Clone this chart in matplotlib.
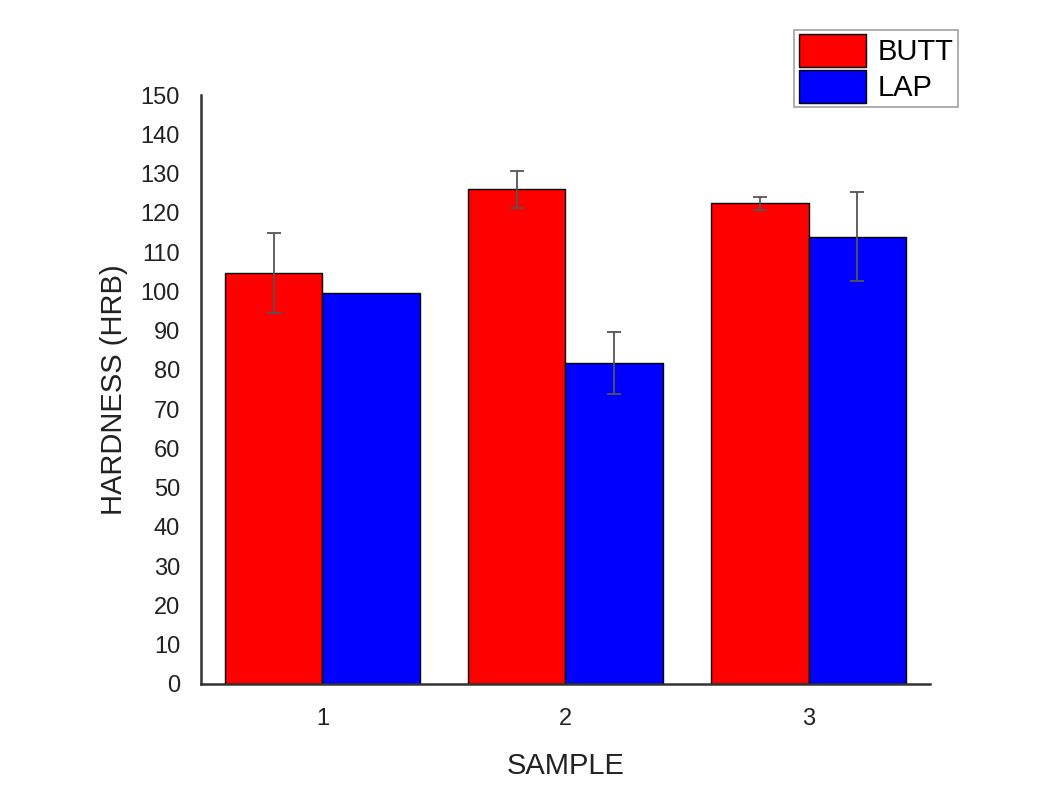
import matplotlib.pyplot as plt
import numpy as np

plt.rcParams["font.family"] = ["Liberation Sans", "DejaVu Sans"]

samples = ["1", "2", "3"]
butt_mean = [104.7, 126.0, 122.4]
butt_err = [10.1, 4.7, 1.6]
lap_mean = [99.7, 81.8, 113.9]
lap_err = [np.nan, 7.9, 11.3]

x = np.arange(1, len(samples) + 1)
width = 0.4

fig = plt.figure(figsize=(10.56, 8.1), dpi=100)
ax = fig.add_axes([0.1903, 0.1556, 0.6904, 0.7271])

err_style = dict(ecolor="#555555", elinewidth=1.3, capsize=5, capthick=1.3)

ax.bar(x - width / 2, butt_mean, width, yerr=butt_err, color="#ff0000",
       edgecolor="black", linewidth=1, label="BUTT", error_kw=err_style)
ax.bar(x + width / 2, lap_mean, width, yerr=lap_err, color="#0000ff",
       edgecolor="black", linewidth=1, label="LAP", error_kw=err_style)

ax.set_xlim(0.5, 3.5)
ax.set_ylim(0, 150)
ax.set_xticks(x)
ax.set_xticklabels(samples)
ax.set_yticks(np.arange(0, 151, 10))
ax.tick_params(axis="both", length=0, labelsize=17, colors="#222222")
ax.tick_params(axis="y", pad=15)
ax.tick_params(axis="x", pad=17)

for side in ["top", "right"]:
    ax.spines[side].set_visible(False)
for side in ["left", "bottom"]:
    ax.spines[side].set_linewidth(1.8)
    ax.spines[side].set_color("#333333")

ax.set_xlabel("SAMPLE", fontsize=21, labelpad=16, color="#222222")
ax.set_ylabel("HARDNESS (HRB)", fontsize=21, labelpad=9, color="#222222")

leg = fig.legend(loc="upper right", bbox_to_anchor=(0.907, 0.963),
                 fontsize=21, frameon=True, fancybox=False,
                 handlelength=2.3, handleheight=1.35, handletextpad=0.4,
                 labelspacing=0.1, borderpad=0.15, borderaxespad=0)
leg.get_frame().set_edgecolor("#888888")
leg.get_frame().set_linewidth(1.2)

fig.savefig("out.png", dpi=100)
